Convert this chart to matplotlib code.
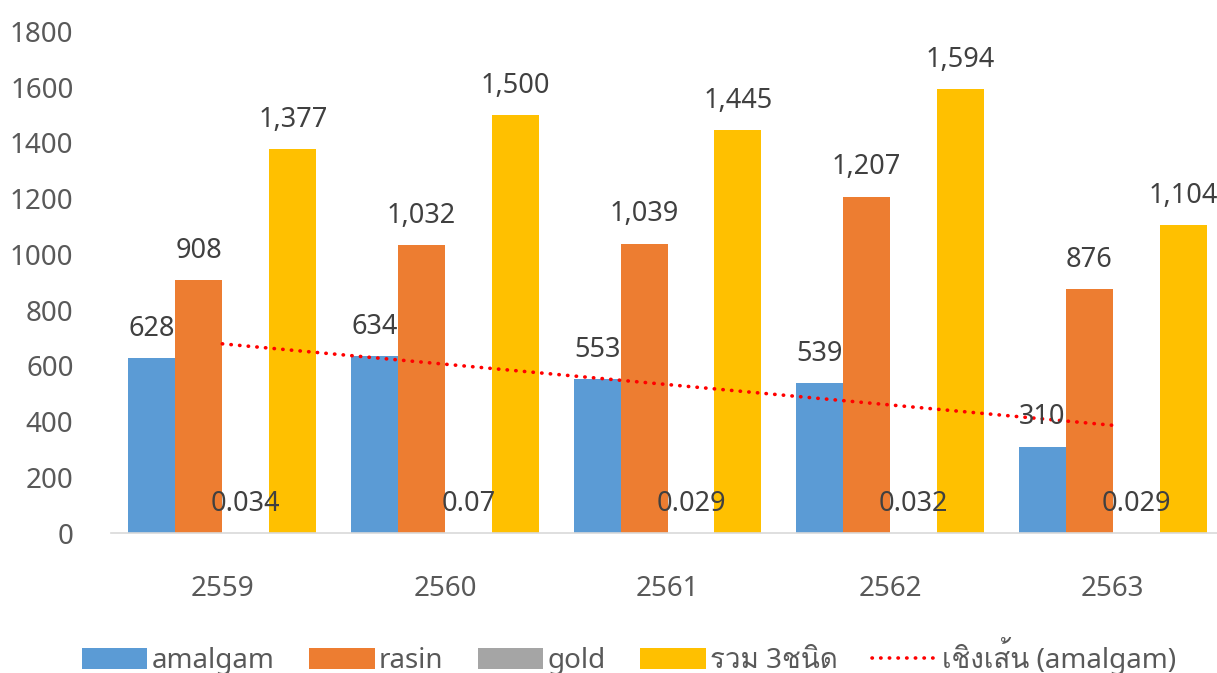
import numpy as np
import matplotlib
matplotlib.use("Agg")
import matplotlib.pyplot as plt
from matplotlib import font_manager
from matplotlib.ft2font import FT2Font

# data
years = ["2559", "2560", "2561", "2562", "2563"]
amalgam = [628, 634, 553, 539, 310]
rasin = [908, 1032, 1039, 1207, 876]
gold = [0.034, 0.07, 0.029, 0.032, 0.029]
total = [1377, 1500, 1445, 1594, 1104]
series_names = ["amalgam", "rasin", "gold", "รวม 3ชนิด"]
trend_name = "เชิงเส้น (amalgam)"


# find a font that has Thai glyphs
def find_thai_font():
    for f in font_manager.fontManager.ttflist:
        try:
            cmap = FT2Font(f.fname).get_charmap()
        except Exception:
            continue
        if 0x0E23 in cmap and 0x0E0A in cmap:
            return f.name
    return None

thai = find_thai_font()
fams = ["Noto Sans", "DejaVu Sans"]
if thai:
    fams = ["Noto Sans", thai, "DejaVu Sans"]
plt.rcParams["font.family"] = fams

colors = ["#5B9BD5", "#ED7D31", "#A5A5A5", "#FFC000"]
lab_col = "#404040"
tick_col = "#595959"

fig = plt.figure(figsize=(12.17, 6.73), dpi=100)
ax = fig.add_axes([111 / 1217, 140 / 673, 5 * 222.6 / 1217, 501.5 / 673])

x = np.arange(len(years))
w = 0.211
all_vals = [amalgam, rasin, gold, total]
for i, (vals, c, name) in enumerate(zip(all_vals, colors, series_names)):
    bars = ax.bar(x + (i - 1.5) * w, vals, w, color=c, label=name)
    if i == 2:
        labs = [str(v) for v in vals]
    else:
        labs = ["{:,}".format(v) for v in vals]
    ax.bar_label(bars, labels=labs, padding=11, fontsize=19.5, color=lab_col)

# linear trendline for amalgam
k, b = np.polyfit(x + 1, amalgam, 1)
ax.plot(x, k * (x + 1) + b, color="#FF0000", lw=2.6, linestyle=(0, (0.1, 2.3)),
        dash_capstyle="round", label=trend_name)

ax.set_xlim(-0.5, 4.5)
ax.set_ylim(0, 1800)
ax.set_yticks(range(0, 1801, 200))
ax.set_xticks(x)
ax.set_xticklabels(years)
ax.tick_params(axis="both", length=0, labelsize=20, colors=tick_col)
ax.tick_params(axis="x", pad=30)
ax.tick_params(axis="y", pad=27)
for s in ["top", "right", "left"]:
    ax.spines[s].set_visible(False)
ax.spines["bottom"].set_color("#D9D9D9")
ax.spines["bottom"].set_linewidth(1.2)

handles, labels = ax.get_legend_handles_labels()
order = [1, 2, 3, 4, 0]
leg = fig.legend([handles[i] for i in order], [labels[i] for i in order],
                 loc="center", bbox_to_anchor=(629 / 1217, 1 - 656 / 673),
                 ncol=5, frameon=False, fontsize=20, handlelength=2.35,
                 handleheight=0.8, handletextpad=0.15, columnspacing=1.25)
for t in leg.get_texts():
    t.set_color(tick_col)

fig.savefig("out.png", dpi=100)
